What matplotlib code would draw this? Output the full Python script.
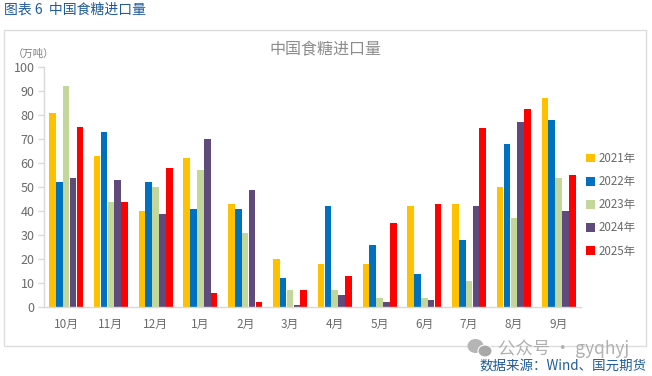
import numpy as np
import matplotlib
matplotlib.use('Agg')
import matplotlib.pyplot as plt
from matplotlib.patches import Rectangle, Ellipse

plt.rcParams['font.family'] = ['Noto Sans CJK SC', 'DejaVu Sans']

months = ['10月','11月','12月','1月','2月','3月','4月','5月','6月','7月','8月','9月']
y2021 = [81,63,40,62,43,20,18,18,42,43,50,87]
y2022 = [52,73,52,41,41,12,42,26,14,28,68,78]
y2023 = [92,44,50,57,31,7,7,4,4,11,37,54]
y2024 = [54,53,39,70,49,1,5,2,3,42,77,40]
y2025 = [75,44,58,6,2,7,13,35,43,74.5,82.5,55]
series = [('2021年',y2021,'#FFC000'),('2022年',y2022,'#0070C0'),('2023年',y2023,'#C4D79B'),
          ('2024年',y2024,'#604A7B'),('2025年',y2025,'#FF0000')]

W,H = 652,376
fig = plt.figure(figsize=(W/100,H/100),dpi=100,facecolor='white')
def fx(p): return p/W
def fy(p): return 1-p/H

fig.add_artist(Rectangle((fx(3.5),fy(346)),fx(642.5),(346-29.5)/H,transform=fig.transFigure,
                         fc='white',ec='#DDDDDD',lw=1,zorder=-5))
ax = fig.add_axes([fx(43.7),fy(307.3),(581-43.7)/W,(307.3-67)/H],facecolor='none')
x = np.arange(len(months))
bw = 0.153
for i,(name,vals,c) in enumerate(series):
    ax.bar(x+(i-2)*bw,vals,width=bw*0.96,color=c,label=name,zorder=2)
ax.set_xlim(-0.5,11.5); ax.set_ylim(0,100)
ax.set_yticks(range(0,101,10))
ax.set_xticks(x); ax.set_xticklabels(months)
ax.tick_params(axis='y',length=4,width=1,color='#D9D9D9',labelcolor='#6A6A6A',labelsize=9,pad=2.5)
ax.tick_params(axis='x',length=0,labelcolor='#6A6A6A',labelsize=8.5,pad=8)
for s in ['top','right']: ax.spines[s].set_visible(False)
for s in ['left','bottom']:
    ax.spines[s].set_color('#D9D9D9'); ax.spines[s].set_linewidth(1)

fig.text(fx(325.5),fy(50),'中国食糖进口量',fontsize=11.5,color='#8C8C8C',ha='center',va='center')
fig.text(fx(13),fy(54),'（万吨）',fontsize=7.5,color='#7F7F7F',ha='left',va='center')
fig.text(fx(4),fy(10),'图表 6  中国食糖进口量',fontsize=10,color='#1F5C99',ha='left',va='center')

leg = ax.legend(loc='upper left',bbox_to_anchor=((586-43.7)/(581-43.7),(307.3-152)/(307.3-67)),frameon=False,
          fontsize=8.3,labelcolor='#6A6A6A',handlelength=0.8,handleheight=0.8,handletextpad=0.25,
          labelspacing=0.88,borderpad=0,borderaxespad=0)

fig.add_artist(Ellipse((fx(475.5),fy(346)),16/W,14/H,transform=fig.transFigure,fc='#B5B5B5',ec='none'))
fig.add_artist(Ellipse((fx(485),fy(351)),14/W,12/H,transform=fig.transFigure,fc='#A8A8A8',ec='white',lw=0.8))
fig.text(fx(498),fy(349),'公众号 · gyqhyj',fontsize=12.5,color='#B0B0B0',ha='left',va='center')
fig.text(fx(479),fy(366),'数据来源：Wind、国元期货',fontsize=9.7,color='#1F5C99',ha='left',va='center')
fig.savefig('out.png',dpi=100,facecolor='white')
